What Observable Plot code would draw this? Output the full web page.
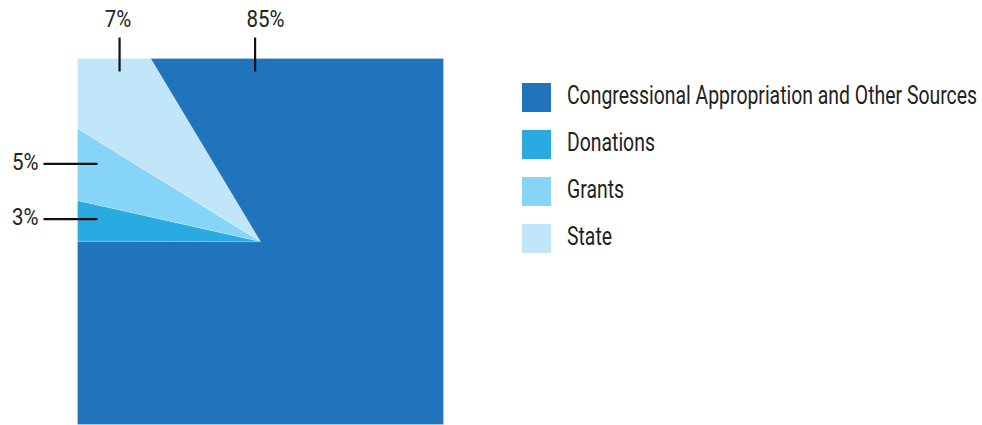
<!DOCTYPE html>
<html><head><meta charset="utf-8">
<script src="https://cdn.jsdelivr.net/npm/d3@7"></script>
<script src="https://cdn.jsdelivr.net/npm/@observablehq/plot@0.6"></script>
<style>
body{margin:0;background:#fff;font-family:Roboto,sans-serif;}
#wrap{position:relative;width:982px;height:425px;overflow:hidden}
#chart{position:absolute;left:0;top:0}
#legend{position:absolute;left:522px;top:83px}
.item{display:flex;align-items:center;height:29px;margin-bottom:18px}
.sw{width:29px;height:29px;margin-right:16px;flex:none}
.lbl{font-size:25px;color:#222;white-space:nowrap;transform-origin:left center;display:inline-block;position:relative;top:-2px}
</style></head><body><div id="wrap"><div id="chart"></div><div id="legend"></div></div>
<script>
// ---- data ----
const categories = ["Congressional Appropriation and Other Sources", "Donations", "Grants", "State"];
const shares = [83.6, 3.5, 5.3, 7.6];          // slice sizes as drawn (percent)
const labels = ["85%", "3%", "5%", "7%"];       // printed labels
// ---- styles / layout ----
const colors = ["#1f74bb", "#29abe2", "#86d4f7", "#c1e6fa"];
const pieOrder = [1, 2, 3, 0];                  // clockwise from the west
const startAngle = 270;
const labelLayout = [{angle: 358.3, dx: 10.5}, {angle: 277.0, dx: 0}, {angle: 293.0, dx: 0}, {angle: 322.4, dx: -1.5}];

const rad = Math.PI / 180;
const px = 2 / 366; // one pixel in data units
function edgePoint(a) {
  const dx = Math.sin(a * rad), dy = Math.cos(a * rad);
  const s = Math.max(Math.abs(dx), Math.abs(dy));
  return [dx / s, dy / s];
}
const total = d3.sum(shares);
let acc = startAngle;
const slices = pieOrder.map(i => {
  const a0 = acc, a1 = acc + shares[i] / total * 360;
  acc = a1;
  const pts = [[0, 0], edgePoint(a0)];
  for (let c = 45; c < 1080; c += 90) if (c > a0 && c < a1) pts.push(edgePoint(c));
  pts.push(edgePoint(a1));
  return {i, pts};
});

const ticks = categories.map((c, i) => {
  const [x, y] = edgePoint(labelLayout[i].angle);
  const top = Math.abs(y) >= Math.abs(x);
  return top
    ? {i, top, x1: x, y1: 1 - 13 * px, x2: x, y2: 1 + 21 * px, tx: x + labelLayout[i].dx * px, ty: 1 + 39 * px, text: labels[i]}
    : {i, top, x1: -1 + 20 * px, y1: y, x2: -1 - 34 * px, y2: y, tx: -1 - 39 * px, ty: y + 2 * px, text: labels[i]};
});

const marks = slices.map(s => Plot.line(s.pts, {
  x: d => d[0], y: d => d[1], curve: "linear-closed",
  fill: colors[s.i], stroke: "#ffffff", strokeOpacity: 0.3, strokeWidth: 0.75
}));
marks.push(Plot.link(ticks, {x1: "x1", y1: "y1", x2: "x2", y2: "y2", stroke: "#111", strokeWidth: 2.2}));
marks.push(Plot.text(ticks.filter(t => t.top), {x: "tx", y: "ty", text: "text", lineAnchor: "middle", textAnchor: "middle", fontSize: 24, fill: "#222"}));
marks.push(Plot.text(ticks.filter(t => !t.top), {x: "tx", y: "ty", text: "text", lineAnchor: "middle", textAnchor: "end", fontSize: 24, fill: "#222"}));

const chart = Plot.plot({
  width: 460, height: 425,
  marginLeft: 77, marginRight: 17, marginTop: 58, marginBottom: 1,
  x: {domain: [-1, 1], axis: null},
  y: {domain: [-1, 1], axis: null},
  style: {fontFamily: "Roboto, sans-serif", background: "transparent", overflow: "visible"},
  marks
});
document.getElementById("chart").append(chart);

// condense label glyphs horizontally (reference uses a condensed face)
const texts = Array.from(chart.querySelectorAll('g[aria-label="text"] text'));
const ref = texts.find(t => t.textContent === "85%");
const kLab = ref ? 38 / ref.getBBox().width : 0.85;
texts.forEach(t => {
  const tr = t.getAttribute("transform");
  if (tr) t.setAttribute("transform", `${tr} scale(${kLab},1)`);
});

// legend
const legend = document.getElementById("legend");
categories.forEach((c, i) => {
  const item = document.createElement("div"); item.className = "item";
  const sw = document.createElement("div"); sw.className = "sw"; sw.style.background = colors[i];
  const lb = document.createElement("span"); lb.className = "lbl"; lb.textContent = c;
  item.append(sw, lb); legend.append(item);
});
const spans = legend.querySelectorAll(".lbl");
const w0 = spans[0].getBoundingClientRect().width;
const k = 410 / w0;
spans.forEach(s => s.style.transform = `scaleX(${k})`);
</script></body></html>
